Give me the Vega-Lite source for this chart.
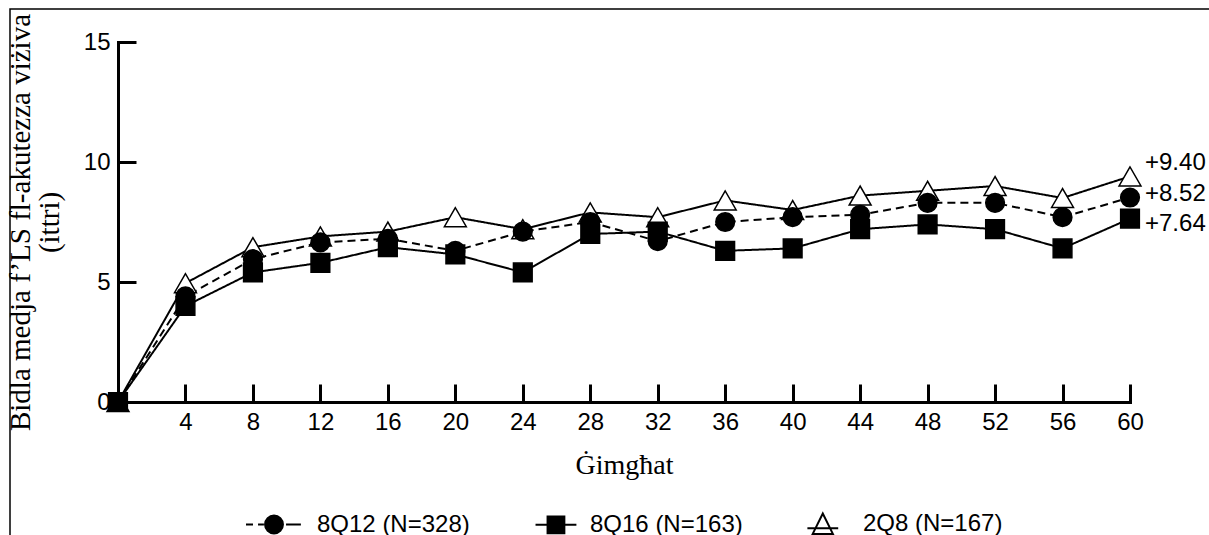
{
  "$schema": "https://vega.github.io/schema/vega-lite/v6.json",
  "width": 1200,
  "height": 527,
  "autosize": "none",
  "padding": {"left": 10, "top": 9, "right": -1, "bottom": -1},
  "background": "white",
  "config": {
    "view": {"stroke": "black", "strokeWidth": 1.5},
    "font": "Liberation Sans"
  },
  "datasets": {
    "points": [
      {"series": "2Q8 (N=167)", "week": 0, "value": 0},
      {"series": "2Q8 (N=167)", "week": 4, "value": 4.95},
      {"series": "2Q8 (N=167)", "week": 8, "value": 6.45},
      {"series": "2Q8 (N=167)", "week": 12, "value": 6.9},
      {"series": "2Q8 (N=167)", "week": 16, "value": 7.1},
      {"series": "2Q8 (N=167)", "week": 20, "value": 7.7},
      {"series": "2Q8 (N=167)", "week": 24, "value": 7.2},
      {"series": "2Q8 (N=167)", "week": 28, "value": 7.9},
      {"series": "2Q8 (N=167)", "week": 32, "value": 7.7},
      {"series": "2Q8 (N=167)", "week": 36, "value": 8.4},
      {"series": "2Q8 (N=167)", "week": 40, "value": 8.0},
      {"series": "2Q8 (N=167)", "week": 44, "value": 8.6},
      {"series": "2Q8 (N=167)", "week": 48, "value": 8.8},
      {"series": "2Q8 (N=167)", "week": 52, "value": 9.0},
      {"series": "2Q8 (N=167)", "week": 56, "value": 8.5},
      {"series": "2Q8 (N=167)", "week": 60, "value": 9.4},
      {"series": "8Q12 (N=328)", "week": 0, "value": 0},
      {"series": "8Q12 (N=328)", "week": 4, "value": 4.4},
      {"series": "8Q12 (N=328)", "week": 8, "value": 5.95},
      {"series": "8Q12 (N=328)", "week": 12, "value": 6.65},
      {"series": "8Q12 (N=328)", "week": 16, "value": 6.8},
      {"series": "8Q12 (N=328)", "week": 20, "value": 6.3},
      {"series": "8Q12 (N=328)", "week": 24, "value": 7.1},
      {"series": "8Q12 (N=328)", "week": 28, "value": 7.5},
      {"series": "8Q12 (N=328)", "week": 32, "value": 6.7},
      {"series": "8Q12 (N=328)", "week": 36, "value": 7.5},
      {"series": "8Q12 (N=328)", "week": 40, "value": 7.7},
      {"series": "8Q12 (N=328)", "week": 44, "value": 7.8},
      {"series": "8Q12 (N=328)", "week": 48, "value": 8.3},
      {"series": "8Q12 (N=328)", "week": 52, "value": 8.3},
      {"series": "8Q12 (N=328)", "week": 56, "value": 7.7},
      {"series": "8Q12 (N=328)", "week": 60, "value": 8.52},
      {"series": "8Q16 (N=163)", "week": 0, "value": 0},
      {"series": "8Q16 (N=163)", "week": 4, "value": 4.0},
      {"series": "8Q16 (N=163)", "week": 8, "value": 5.4},
      {"series": "8Q16 (N=163)", "week": 12, "value": 5.8},
      {"series": "8Q16 (N=163)", "week": 16, "value": 6.45},
      {"series": "8Q16 (N=163)", "week": 20, "value": 6.15},
      {"series": "8Q16 (N=163)", "week": 24, "value": 5.4},
      {"series": "8Q16 (N=163)", "week": 28, "value": 7.0},
      {"series": "8Q16 (N=163)", "week": 32, "value": 7.1},
      {"series": "8Q16 (N=163)", "week": 36, "value": 6.3},
      {"series": "8Q16 (N=163)", "week": 40, "value": 6.4},
      {"series": "8Q16 (N=163)", "week": 44, "value": 7.2},
      {"series": "8Q16 (N=163)", "week": 48, "value": 7.4},
      {"series": "8Q16 (N=163)", "week": 52, "value": 7.2},
      {"series": "8Q16 (N=163)", "week": 56, "value": 6.4},
      {"series": "8Q16 (N=163)", "week": 60, "value": 7.64}
    ],
    "labels": [
      {"week": 60, "value": 9.4, "label": "+9.40"},
      {"week": 60, "value": 8.52, "label": "+8.52"},
      {"week": 60, "value": 7.64, "label": "+7.64"}
    ]
  },
  "encoding": {
    "x": {
      "field": "week",
      "type": "quantitative",
      "scale": {"domain": [0, 60], "range": [108, 1120], "nice": false, "zero": false},
      "axis": {
        "orient": "bottom",
        "offset": -134,
        "values": [4, 8, 12, 16, 20, 24, 28, 32, 36, 40, 44, 48, 52, 56, 60],
        "grid": false,
        "domainColor": "black",
        "domainWidth": 3,
        "domainCap": "square",
        "tickColor": "black",
        "tickWidth": 3,
        "tickSize": -18,
        "labelPadding": 26,
        "labelFlush": false,
        "labelFont": "Liberation Sans",
        "labelFontSize": 24,
        "labelColor": "black",
        "title": "Ġimgħat",
        "titleFont": "Liberation Serif",
        "titleFontSize": 28,
        "titleFontWeight": "normal",
        "titleColor": "black",
        "titlePadding": 17
      }
    },
    "y": {
      "field": "value",
      "type": "quantitative",
      "scale": {"domain": [0, 15], "range": [393, 33], "nice": false, "zero": true},
      "axis": {
        "orient": "left",
        "offset": -108,
        "values": [0, 5, 10, 15],
        "grid": false,
        "domainColor": "black",
        "domainWidth": 3,
        "domainCap": "square",
        "tickColor": "black",
        "tickWidth": 3,
        "tickSize": -18,
        "labelPadding": 26,
        "labelFlush": false,
        "labelFont": "Liberation Sans",
        "labelFontSize": 24,
        "labelColor": "black",
        "title": ["Bidla medja f’LS fl-akutezza viżiva", "(ittri)"],
        "titleFont": "Liberation Serif",
        "titleFontSize": 29,
        "titleFontWeight": "normal",
        "titleColor": "black",
        "titleLineHeight": 29,
        "titlePadding": 19
      }
    }
  },
  "layer": [
    {
      "data": {"name": "points"},
      "mark": {"type": "line", "color": "black", "strokeWidth": 2},
      "encoding": {
        "detail": {"field": "series", "type": "nominal"},
        "strokeDash": {
          "condition": {"test": "datum.series == '8Q12 (N=328)'", "value": [8, 5]},
          "value": [1, 0]
        }
      }
    },
    {
      "data": {"name": "points"},
      "mark": {"type": "point", "opacity": 0, "filled": true, "strokeWidth": 2},
      "encoding": {
        "shape": {
          "field": "series",
          "type": "nominal",
          "scale": {
            "domain": ["8Q12 (N=328)", "8Q16 (N=163)", "2Q8 (N=167)"],
            "range": [
              "M-1,0H-0.75M-0.57,0H-0.36M0.32,0A0.32,0.32 0 1,1 -0.32,0A0.32,0.32 0 1,1 0.32,0ZM0.43,0H0.96",
              "M-0.41,0H1.05M0.02,-0.3H0.62V0.3H0.02Z",
              "M-0.45,0.15H0.65M-0.26,0.35L0.1,-0.38L0.46,0.35Z"
            ]
          },
          "legend": {
            "orient": "none",
            "legendX": 235,
            "legendY": 486,
            "direction": "horizontal",
            "title": null,
            "padding": 0,
            "symbolSize": 3136,
            "symbolOpacity": 1,
            "symbolStrokeWidth": 2,
            "symbolStrokeColor": "black",
            "labelFont": "Liberation Sans",
            "labelFontSize": 24,
            "labelColor": "black",
            "labelOffset": 14,
            "labelLimit": 400,
            "columnPadding": 48
          }
        },
        "fill": {
          "field": "series",
          "type": "nominal",
          "scale": {"domain": ["8Q12 (N=328)", "8Q16 (N=163)", "2Q8 (N=167)"], "range": ["black", "black", "white"]},
          "legend": {
            "orient": "none",
            "legendX": 235,
            "legendY": 486,
            "direction": "horizontal",
            "title": null,
            "padding": 0,
            "symbolSize": 3136,
            "symbolOpacity": 1,
            "symbolStrokeWidth": 2,
            "symbolStrokeColor": "black",
            "labelFont": "Liberation Sans",
            "labelFontSize": 24,
            "labelColor": "black",
            "labelOffset": 14,
            "labelLimit": 400,
            "columnPadding": 48
          }
        },
        "stroke": {
          "field": "series",
          "type": "nominal",
          "scale": {"domain": ["8Q12 (N=328)", "8Q16 (N=163)", "2Q8 (N=167)"], "range": ["black", "black", "black"]},
          "legend": {
            "orient": "none",
            "legendX": 235,
            "legendY": 486,
            "direction": "horizontal",
            "title": null,
            "padding": 0,
            "symbolSize": 3136,
            "symbolOpacity": 1,
            "symbolStrokeWidth": 2,
            "symbolStrokeColor": "black",
            "labelFont": "Liberation Sans",
            "labelFontSize": 24,
            "labelColor": "black",
            "labelOffset": 14,
            "labelLimit": 400,
            "columnPadding": 48
          }
        }
      }
    },
    {
      "data": {"name": "points"},
      "mark": {"type": "point", "filled": true, "stroke": "black", "strokeWidth": 1.5, "opacity": 1},
      "encoding": {
        "shape": {
          "condition": [
            {"test": "datum.series == '8Q16 (N=163)'", "value": "square"},
            {"test": "datum.series == '2Q8 (N=167)'", "value": "triangle-up"}
          ],
          "value": "circle"
        },
        "fill": {
          "condition": {"test": "datum.series == '2Q8 (N=167)'", "value": "white"},
          "value": "black"
        },
        "size": {
          "condition": {"test": "datum.series == '2Q8 (N=167)'", "value": 480},
          "value": 350
        }
      }
    },
    {
      "data": {"name": "labels"},
      "transform": [{"filter": "datum.label == '+9.40'"}],
      "mark": {"type": "text", "align": "left", "baseline": "middle", "dx": 15, "dy": -13, "font": "Liberation Sans", "fontSize": 24, "color": "black"},
      "encoding": {"text": {"field": "label", "type": "nominal"}}
    },
    {
      "data": {"name": "labels"},
      "transform": [{"filter": "datum.label == '+8.52'"}],
      "mark": {"type": "text", "align": "left", "baseline": "middle", "dx": 15, "dy": -4, "font": "Liberation Sans", "fontSize": 24, "color": "black"},
      "encoding": {"text": {"field": "label", "type": "nominal"}}
    },
    {
      "data": {"name": "labels"},
      "transform": [{"filter": "datum.label == '+7.64'"}],
      "mark": {"type": "text", "align": "left", "baseline": "middle", "dx": 15, "dy": 5, "font": "Liberation Sans", "fontSize": 24, "color": "black"},
      "encoding": {"text": {"field": "label", "type": "nominal"}}
    }
  ]
}
